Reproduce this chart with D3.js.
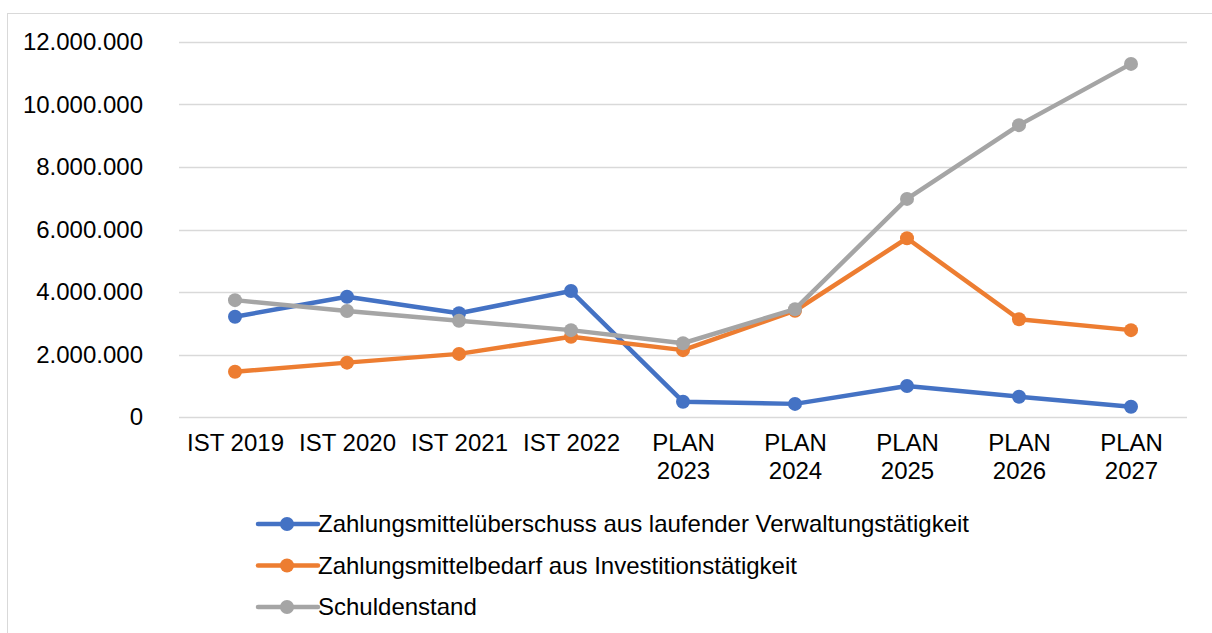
<!DOCTYPE html>
<html>
<head>
<meta charset="utf-8">
<script src="https://cdn.jsdelivr.net/npm/d3@7"></script>
<style>
  body { margin: 0; background: #fff; }
  svg { display: block; font-family: "Liberation Sans", Arial, sans-serif; }
</style>
</head>
<body>
<svg class="chart" width="1212" height="633"></svg>
<script>
// categories (x axis), two-line labels split on "\n"
const categories = ["IST 2019", "IST 2020", "IST 2021", "IST 2022",
  "PLAN\n2023", "PLAN\n2024", "PLAN\n2025", "PLAN\n2026", "PLAN\n2027"];

const yTicks = [0, 2000000, 4000000, 6000000, 8000000, 10000000, 12000000];

const ueberschuss = [3210000, 3850000, 3320000, 4030000, 490000, 420000, 990000, 650000, 330000];
const investition = [1450000, 1740000, 2020000, 2570000, 2140000, 3400000, 5720000, 3130000, 2780000];
const schulden = [3740000, 3390000, 3080000, 2780000, 2360000, 3450000, 6980000, 9340000, 11300000];

const seriesNames = [
  "Zahlungsmittelüberschuss aus laufender Verwaltungstätigkeit",
  "Zahlungsmittelbedarf aus Investitionstätigkeit",
  "Schuldenstand"
];
const colors = ["#4472C4", "#ED7D31", "#A5A5A5"];

const series = [ueberschuss, investition, schulden].map((vals, i) => ({
  name: seriesNames[i],
  color: colors[i],
  values: vals
}));

const fontSize = 24;
const svg = d3.select(".chart");

// outer chart border (runs off the right and bottom edge)
svg.append("rect")
  .attr("x", 7.5).attr("y", 13.5)
  .attr("width", 1230).attr("height", 640)
  .attr("fill", "none")
  .attr("stroke", "#d9d9d9")
  .attr("stroke-width", 1);

const x = d3.scalePoint()
  .domain(categories)
  .range([179, 1187])
  .padding(0.5);

const y = d3.scaleLinear()
  .domain([0, 12000000])
  .range([417, 42]);

const fmt = v => d3.format(",")(v).replace(/,/g, ".");

// gridlines
svg.append("g")
  .selectAll("line")
  .data(yTicks)
  .join("line")
  .attr("x1", 179).attr("x2", 1187)
  .attr("y1", d => Math.round(y(d)) + 0.5)
  .attr("y2", d => Math.round(y(d)) + 0.5)
  .attr("stroke", "#d9d9d9")
  .attr("stroke-width", 1.5);

// y axis labels
const yAxis = svg.append("g")
  .attr("transform", "translate(179,0)")
  .call(d3.axisLeft(y).tickValues(yTicks).tickFormat(fmt).tickSize(0).tickPadding(36));
yAxis.select(".domain").remove();
yAxis.selectAll("text")
  .attr("font-size", fontSize)
  .attr("font-family", "Liberation Sans, Arial, sans-serif")
  .attr("fill", "#000");

// x axis labels (multi-line)
const xAxis = svg.append("g")
  .attr("transform", "translate(0,417)")
  .call(d3.axisBottom(x).tickSize(0).tickFormat(""));
xAxis.select(".domain").remove();
xAxis.selectAll(".tick").each(function(d) {
  const t = d3.select(this).append("text")
    .attr("text-anchor", "middle")
    .attr("font-size", fontSize)
    .attr("font-family", "Liberation Sans, Arial, sans-serif")
    .attr("fill", "#000");
  d.split("\n").forEach((line, i) => {
    t.append("tspan").attr("x", 0).attr("y", 34 + i * 28).text(line);
  });
});

// lines and markers
const line = d3.line()
  .x((d, i) => x(categories[i]))
  .y(d => y(d));

series.forEach(s => {
  const g = svg.append("g");
  g.append("path")
    .datum(s.values)
    .attr("d", line)
    .attr("fill", "none")
    .attr("stroke", s.color)
    .attr("stroke-width", 4.5)
    .attr("stroke-linejoin", "round");
  g.selectAll("circle")
    .data(s.values)
    .join("circle")
    .attr("cx", (d, i) => x(categories[i]))
    .attr("cy", d => y(d))
    .attr("r", 7)
    .attr("fill", s.color);
});

// legend
const legend = svg.append("g")
  .selectAll("g")
  .data(series)
  .join("g")
  .attr("transform", (d, i) => `translate(258,${524 + i * 41.5})`);
legend.append("line")
  .attr("x1", 0).attr("x2", 60)
  .attr("stroke", d => d.color)
  .attr("stroke-width", 4.5)
  .attr("stroke-linecap", "round");
legend.append("circle")
  .attr("cx", 29).attr("r", 7)
  .attr("fill", d => d.color);
legend.append("text")
  .attr("x", 60)
  .attr("dy", "0.35em")
  .attr("font-size", fontSize)
  .attr("fill", "#000")
  .text(d => d.name);
</script>
</body>
</html>
